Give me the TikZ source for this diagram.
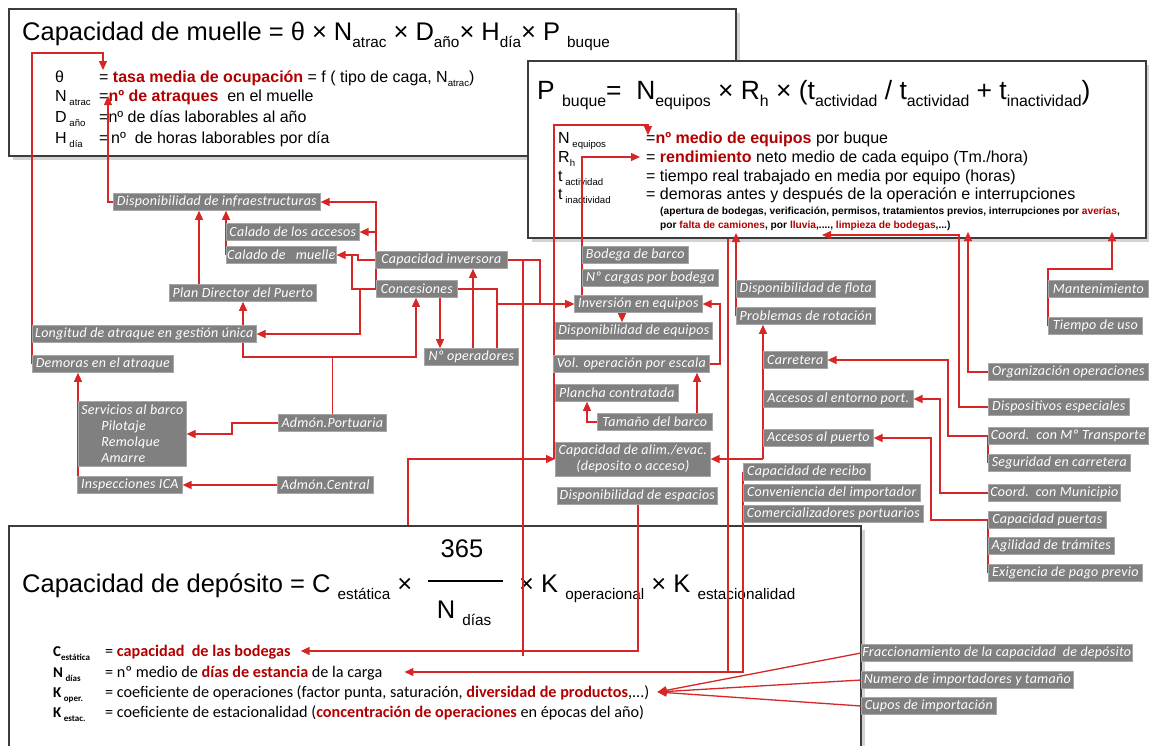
\documentclass[tikz,border=0pt]{standalone}
\usepackage{fontspec}
\usepackage{graphicx}
\setmainfont{Liberation Sans}
\newfontfamily\gfont[LetterSpace=2]{Carlito}
\newfontfamily\cfont{Carlito}
\usetikzlibrary{arrows.meta,shadows,positioning}

\definecolor{linkred}{RGB}{214,38,38}
\definecolor{txtred}{RGB}{178,0,0}
\definecolor{boxgray}{RGB}{128,128,128}
\definecolor{framegray}{RGB}{60,60,60}

\newcommand\redb[1]{\textcolor{txtred}{\bfseries #1}}
\newcommand\subx[1]{\raisebox{-0.28em}{\scalebox{0.6}{#1}}}

\pgfdeclarelayer{bg}
\pgfdeclarelayer{wires}
\pgfsetlayers{bg,wires,main}

\tikzset{
  gbox/.style={fill=boxgray, draw=boxgray!70!white, line width=0.6pt, text=white,
    font=\gfont\itshape\fontsize{14}{16}\selectfont, minimum height=17pt,
    inner sep=0pt, anchor=west},
  fbox/.style={draw=framegray, line width=2pt, fill=white, anchor=north west, inner sep=0pt,
    drop shadow={shadow xshift=4pt, shadow yshift=-4pt, opacity=0.35}},
  ftitle/.style={anchor=base west, inner sep=0pt, font=\fontsize{25.5}{28}\selectfont},
  fdef/.style={anchor=base west, inner sep=0pt, font=\fontsize{16}{18}\selectfont},
  fsmall/.style={anchor=base west, inner sep=0pt, font=\fontsize{10.2}{12}\selectfont\bfseries},
  cdef/.style={anchor=base west, inner sep=0pt, font=\cfont\fontsize{16.2}{18}\selectfont},
  csym/.style={cdef, font=\cfont\bfseries\fontsize{15}{17}\selectfont},
  wire/.style={draw=linkred, line width=1.3pt},
  warr/.style={wire, -{Triangle[length=9pt,width=8pt]}}
}

\begin{document}
\begin{tikzpicture}[x=1pt,y=-1pt]
\useasboundingbox (0,0) rectangle (1149,745);

% formula boxes
\begin{pgfonlayer}{bg}
\node[fbox, minimum width=727pt, minimum height=147pt] (box1) at (8,8) {};
\node[ftitle] (title1) at (22,40) {Capacidad de muelle = θ × N\subx{atrac} × D\subx{año}× H\subx{día}× P \subx{buque}};
\node[fdef] (stheta) at (55,82) {θ};
\node[fdef] (dtheta) at (99,82) {= \redb{tasa media de ocupación} = f ( tipo de caga, N\subx{atrac})};
\node[fdef] (snatrac) at (55,101) {N\,\subx{atrac}};
\node[fdef] (dnatrac) at (99,101) {=\redb{nº de atraques}\ \ en el muelle};
\node[fdef] (sdano) at (55,122) {D\,\subx{año}};
\node[fdef] (ddano) at (99,122) {=nº de días laborables al año};
\node[fdef] (shdia) at (55,143) {H\,\subx{día}};
\node[fdef] (dhdia) at (99,143) {=\,nº\ \ de horas laborables por día};

\node[fbox, minimum width=618pt, minimum height=177pt] (box2) at (527,60) {};
\node[ftitle, font=\fontsize{26.4}{29}\selectfont] (title2) at (537,99) {P \subx{buque}=\ \ N\subx{equipos} × R\subx{h} × (t\subx{actividad} / t\subx{actividad} + t\subx{inactividad})};
\node[fdef] (snequ) at (558,143) {N\,\subx{equipos}};
\node[fdef] (dnequ) at (646,143) {=\redb{nº medio de equipos} por buque};
\node[fdef] (srh) at (558,162) {R\subx{h}};
\node[fdef] (drh) at (646,162) {= \redb{rendimiento} neto medio de cada equipo (Tm./hora)};
\node[fdef] (stact) at (558,181) {t\,\subx{actividad}};
\node[fdef] (dtact) at (646,181) {= tiempo real trabajado en media por equipo (horas)};
\node[fdef] (stina) at (558,199) {t\,\subx{inactividad}};
\node[fdef] (dtina) at (646,199) {= demoras antes y después de la operación e interrupciones};
\node[fsmall] (small1) at (660,214) {(apertura de bodegas, verificación, permisos, tratamientos previos, interrupciones por \textcolor{txtred}{averías},};
\node[fsmall] (small2) at (660,228) {por \textcolor{txtred}{falta de camiones}, por \textcolor{txtred}{lluvia},...., \textcolor{txtred}{limpieza de bodegas},...)};

\node[fbox, minimum width=852pt, minimum height=230pt] (box3) at (8,525) {};
\node[ftitle] (title3a) at (22,592) {Capacidad de depósito = C \subx{estática} ×};
\node[anchor=base, inner sep=0pt, font=\fontsize{25.5}{28}\selectfont] (num365) at (462,557) {365};
\draw[line width=1.6pt] (428,581) -- (503,581);
\node[anchor=base, inner sep=0pt, font=\fontsize{25.5}{28}\selectfont] (ndias) at (464,618) {N \subx{días}};
\node[ftitle] (title3b) at (519,592) {× K \subx{operacional} × K \subx{estacionalidad}};
\node[csym] (scest) at (53,656) {C\subx{estática}};
\node[cdef] (dcest) at (105,656) {= \redb{capacidad\ \ de las bodegas}};
\node[csym] (sndias) at (53,677) {N\,\subx{días}};
\node[cdef] (dndias) at (105,677) {= nº medio de \redb{días de estancia} de la carga};
\node[csym] (skoper) at (53,697) {K\,\subx{oper.}};
\node[cdef] (dkoper) at (105,697) {= coeficiente de operaciones (factor punta, saturación, \redb{diversidad de productos},...)};
\node[csym] (skest) at (53,717) {K\,\subx{estac.}};
\node[cdef] (dkest) at (105,717) {= coeficiente de estacionalidad (\redb{concentración de operaciones} en épocas del año)};
\end{pgfonlayer}

% arrow targets in the formulas
\coordinate (tgt-theta) at ([xshift=4pt,yshift=12pt]dtheta.base west);
\coordinate (tgt-natrac) at ([xshift=9pt,yshift=5pt]dnatrac.base west);
\coordinate (tgt-nequ) at ([xshift=2pt,yshift=8pt]dnequ.base west);
\coordinate (tgt-rh) at ([xshift=-6pt,yshift=5pt]drh.base west);
\coordinate (tgt-camion) at (736,233);
\coordinate (tgt-lluvia) at (822,235);
\coordinate (tgt-limpieza) at (968,232);
\coordinate (tgt-averia) at (1112,232);
\coordinate (tgt-cest) at ([xshift=10pt,yshift=5pt]dcest.base east);
\coordinate (tgt-ndias) at ([xshift=22pt,yshift=5pt]dndias.base east);
\coordinate (tgt-koper) at ([xshift=8pt,yshift=5pt]dkoper.base east);

% grey factor boxes
\node[gbox, minimum width=207pt] (dinfra) at (113,202) {Disponibilidad de infraestructuras};
\node[gbox, minimum width=133pt] (calacc) at (226,232) {Calado de los accesos};
\node[gbox, minimum width=110pt] (calmue) at (226,255) {Calado de\ \ \ muelle};
\node[gbox, minimum width=147pt] (plandir) at (169,293) {Plan Director del Puerto};
\node[gbox, minimum width=224pt] (longat) at (32,334) {Longitud de atraque en gestión única};
\node[gbox, minimum width=141pt] (demoras) at (32,364) {Demoras en el atraque};
\node[gbox, minimum width=132pt] (capinv) at (375,260) {Capacidad inversora};
\node[gbox, minimum width=81pt] (conces) at (376,289) {Concesiones};
\node[gbox, minimum width=94pt] (noper) at (424,357) {Nº operadores};
\node[gbox, minimum width=108pt, minimum height=65pt, align=left] (servic) at (78,434)
  {Servicios al barco\\\hspace*{20pt}Pilotaje\\\hspace*{20pt}Remolque\\\hspace*{20pt}Amarre};
\node[gbox, minimum width=105pt] (inspec) at (77,485) {Inspecciones ICA};
\node[gbox, minimum width=108pt] (admport) at (278,423) {Admón.Portuaria};
\node[gbox, minimum width=96pt] (admcent) at (277,485) {Admón.Central};
\node[gbox, minimum width=106pt] (bodega) at (582,255) {Bodega de barco};
\node[gbox, minimum width=136pt] (ncargas) at (582,278) {Nº cargas por bodega};
\node[gbox, minimum width=128pt] (invequ) at (574,304) {Inversión en equipos};
\node[gbox, minimum width=157pt] (dispequ) at (555,331) {Disponibilidad de equipos};
\node[gbox, minimum width=156pt] (volop) at (553,364) {Vol. operación por escala};
\node[gbox, minimum width=123pt] (plancha) at (555,393) {Plancha contratada};
\node[gbox, minimum width=115pt] (tamano) at (597,422) {Tamaño del barco};
\node[gbox, minimum width=155pt, minimum height=34pt, align=center] (capalim) at (555,459)
  {Capacidad de alim./evac.\\(deposito o acceso)};
\node[gbox, minimum width=160pt] (dispesp) at (557,496) {Disponibilidad de espacios};
\node[gbox, minimum width=139pt] (dflota) at (736,289) {Disponibilidad de flota};
\node[gbox, minimum width=139pt] (problem) at (736,316) {Problemas de rotación};
\node[gbox, minimum width=64pt] (carret) at (763,360) {Carretera};
\node[gbox, minimum width=150pt] (accent) at (763,399) {Accesos al entorno port.};
\node[gbox, minimum width=110pt] (accpue) at (763,438) {Accesos al puerto};
\node[gbox, minimum width=127pt] (caprec) at (743,472) {Capacidad de recibo};
\node[gbox, minimum width=177pt] (conven) at (743,493) {Conveniencia del importador};
\node[gbox, minimum width=180pt] (comerc) at (743,514) {Comercializadores portuarios};
\node[gbox, minimum width=100pt] (manten) at (1048,289) {Mantenimiento};
\node[gbox, minimum width=94pt] (tiempo) at (1048,326) {Tiempo de uso};
\node[gbox, minimum width=160pt] (organ) at (988,372) {Organización operaciones};
\node[gbox, minimum width=141pt] (dispos) at (988,407) {Dispositivos especiales};
\node[gbox, minimum width=160pt] (coordmt) at (988,436) {Coord.\ \ con Mº Transporte};
\node[gbox, minimum width=142pt] (segur) at (988,463) {Seguridad en carretera};
\node[gbox, minimum width=132pt] (coordmu) at (988,493) {Coord.\ \ con Municipio};
\node[gbox, minimum width=118pt] (cappue) at (988,520) {Capacidad puertas};
\node[gbox, minimum width=126pt] (agil) at (988,546) {Agilidad de trámites};
\node[gbox, minimum width=154pt] (exig) at (988,573) {Exigencia de pago previo};
\node[gbox, minimum width=271pt] (fracc) at (861,653) {Fraccionamiento de la capacidad\ \ de depósito};
\node[gbox, minimum width=212pt] (numimp) at (861,680) {Numero de importadores y tamaño};
\node[gbox, minimum width=135pt] (cupos) at (861,706) {Cupos de importación};

% connectors
\begin{pgfonlayer}{wires}
\draw[warr] (demoras.west) -- (32,53) -| (tgt-theta);
\draw[warr] (dinfra.west) -| (tgt-natrac);
\draw[warr] ([xshift=30pt]plandir.north west) -- ([xshift=86pt]dinfra.south west);
\draw[warr] (calmue.west) -- ([xshift=113pt]dinfra.south west);
\draw[warr] (conces.west) |- (dinfra.east);
\draw[warr] (conces.west |- calacc.east) -- (calacc.east);
\draw[warr] (capinv.west) -- (358,260) |- (calmue.east);
\draw[wire] (conces.west) -| (352,255);
\draw[warr] (conces.west) -| (360,334) -- (longat.east);
\coordinate (apjoin) at (admport.north |- noper.east);
\draw[wire, draw=linkred] (admport.north) -- (apjoin);
\draw[warr] (apjoin) -| ([xshift=74pt]plandir.south west);
\draw[warr] (apjoin) -| ([xshift=40pt]conces.south west);
\draw[warr] ([xshift=64pt]conces.south west) -- ([xshift=16pt]noper.north west);
\draw[warr] ([xshift=49pt]noper.north west) -- ([xshift=98pt]capinv.south west);
\draw[wire] (conces.east) -| ([xshift=73pt]noper.north west);
\draw[warr] ([xshift=73pt]noper.north west |- invequ.west) -- (invequ.west);
\draw[warr] (capinv.east) -- (540,260) |- (invequ.west);
\draw[wire] (capinv.east) -| (523,656);
\draw[warr] ([xshift=81pt]dispesp.south west) |- (tgt-cest);
\draw[warr] ([xshift=400pt]box3.north west) |- (capalim.west);
\draw[warr] ([xshift=-1pt]capalim.west) -- (554,125) -| (tgt-nequ);
\draw[warr] ([xshift=8pt]invequ.north west) -- (582,157 |- tgt-rh) -- (tgt-rh);
\draw[warr] ([xshift=48pt]invequ.south west) -- ([xshift=67pt]dispequ.north west);
\draw[warr] (volop.east) -- (720,364) |- (invequ.east);
\draw[warr] ([xshift=100pt]tamano.north west) -- ([xshift=144pt]volop.south west);
\draw[warr] (tamano.west) -| ([xshift=32pt]plancha.south west);
\draw[warr] (accpue.south west |- capalim.east) -- (capalim.east);
\draw[warr] (accpue.south west |- capalim.east) -- ([xshift=27pt]problem.south west);
\draw[warr] (problem.west) -- (tgt-camion);
\draw[warr] ([xshift=201pt]box2.south west) |- (tgt-ndias);
\draw[wire] (caprec.west) |- ([xshift=201pt]box2.south west |- tgt-ndias);
\draw[warr] (coordmt.west) -- (948,436) |- (carret.east);
\draw[wire] (segur.west) -- (coordmt.west);
\draw[warr] (coordmu.west) -- (940,493) |- (accent.east);
\draw[warr] (cappue.west) -- (931,520) |- (accpue.east);
\draw[wire] (exig.west) -- (cappue.west);
\draw[warr] (tiempo.west) |- (1112,269) -- (tgt-averia);
\draw[warr] (organ.west) -| (tgt-limpieza);
\draw[warr] (dispos.west) -| (959,235) -- (tgt-lluvia);
\draw[warr] (fracc.west) -- (tgt-koper);
\draw[warr] (numimp.west) -- (tgt-koper);
\draw[warr] (cupos.west) -- (tgt-koper);
\draw[warr] (admport.west) -- (232,423) |- (servic.east);
\draw[warr] (admcent.west) -- (inspec.east);
\draw[warr] ([xshift=1pt]inspec.north west) -- ([xshift=46pt]demoras.south west);
\end{pgfonlayer}
\end{tikzpicture}
\end{document}
